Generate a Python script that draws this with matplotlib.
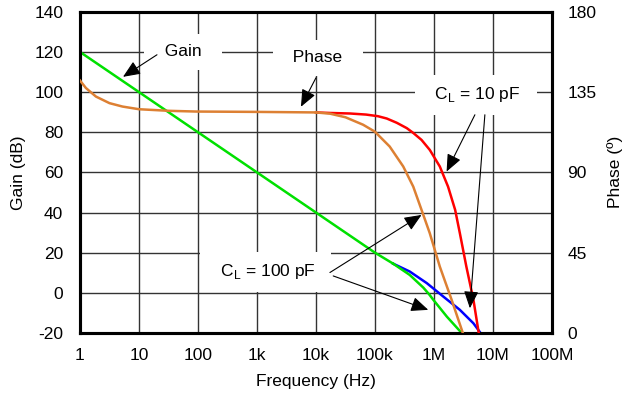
import numpy as np
import matplotlib
matplotlib.use('Agg')
import matplotlib.pyplot as plt

plt.rcParams['font.family'] = ['Liberation Sans', 'DejaVu Sans']
plt.rcParams['font.size'] = 12.5
plt.rcParams['axes.unicode_minus'] = False

# gain (dB) vs log10(frequency)
gain_log_f = [0, 1, 2, 3, 4, 5, 5.31]
gain_db = [120, 100, 80, 60, 40, 20, 14.5]
g100_log_f = [5.31, 5.59, 5.82, 5.92, 5.99, 6.22, 6.47]
g100_db = [14.5, 8.9, 2.6, -0.8, -3.5, -11.9, -20]
g10_log_f = [5.31, 5.59, 5.88, 6.16, 6.44, 6.67, 6.79]
g10_db = [14.5, 10.6, 4.8, -1.9, -8.5, -15.2, -20]

# phase (deg) vs log10(frequency)
ph_low_log_f = [0, 0.1, 0.27, 0.5, 0.72, 1.0, 1.51, 1.97, 3.0, 4.0]
ph_low_deg = [141.5, 137.3, 132.5, 128.8, 126.9, 125.4, 124.5, 124.1, 123.9, 123.6]
ph100_log_f = [4.0, 4.24, 4.5, 4.8, 5.0, 5.25, 5.48, 5.65, 5.79, 5.93, 6.10, 6.30, 6.49]
ph100_deg = [123.6, 122.9, 120.9, 116.7, 112.8, 104.5, 93.3, 82.0, 69.0, 55.9, 37.2, 18.6, 0]
ph10_log_f = [4.0, 4.24, 4.58, 4.85, 5.05, 5.2, 5.37, 5.54, 5.65, 5.79, 5.93, 6.10, 6.24,
			  6.36, 6.44, 6.55, 6.67, 6.76]
ph10_deg = [123.6, 123.3, 123.0, 122.4, 121.5, 120.2, 117.8, 114.8, 112.1, 108.2, 102.6,
			93.3, 82.0, 69.0, 55.9, 37.2, 18.6, 0]

xticks = [1, 10, 100, 1e3, 1e4, 1e5, 1e6, 1e7, 1e8]
xtick_labels = ['1', '10', '100', '1k', '10k', '100k', '1M', '10M', '100M']
gain_ticks = [-20, 0, 20, 40, 60, 80, 100, 120, 140]
phase_ticks = [0, 45, 90, 135, 180]


def hz(lf):
	return 10.0 ** np.asarray(lf)


green = '#00e000'
orange = '#dd8033'

fig = plt.figure(figsize=(6.25, 3.94), dpi=100)
ax = fig.add_axes([0.128, 0.155, 0.755, 0.815])
ax2 = ax.twinx()

ax.set_xscale('log')
ax.set_xlim(1, 1e8)
ax.set_ylim(-20, 140)
ax2.set_ylim(0, 180)

ax.set_xticks(xticks)
ax.set_xticklabels(xtick_labels)
ax.minorticks_off()
ax.set_yticks(gain_ticks)
ax2.set_yticks(phase_ticks)
ax.tick_params(length=0, pad=12)
ax.tick_params(axis='x', pad=11)
ax2.tick_params(length=0, pad=11)
ax.grid(True, color='#333333', lw=1.0)

for a in (ax, ax2):
	for s in a.spines.values():
		s.set_linewidth(2.2)

ax.set_xlabel('Frequency (Hz)', labelpad=8)
ax.set_ylabel('Gain (dB)', labelpad=6)
ax2.set_ylabel('Phase (º)', labelpad=8)

# gain curves
ax.plot(hz(g10_log_f), g10_db, color='#0000ff', lw=1.8, zorder=3)
ax.plot(hz(g100_log_f), g100_db, color=green, lw=1.8, zorder=4)
ax.plot(hz(gain_log_f), gain_db, color=green, lw=1.8, zorder=4)

# phase curves
ax2.plot(hz(ph10_log_f), ph10_deg, color='#ff0000', lw=1.8, zorder=3)
ax2.plot(hz(ph100_log_f), ph100_deg, color=orange, lw=1.8, zorder=4)
ax2.plot(hz(ph_low_log_f), ph_low_deg, color=orange, lw=1.8, zorder=4)

box = dict(boxstyle='square,pad=0.6', fc='white', ec='none')
labels = [('Gain', 1.746, 120.1), ('Phase', 4.03, 117.1),
		  ('C$_\\mathregular{L}$ = 10 pF', 6.71, 98.6),
		  ('C$_\\mathregular{L}$ = 100 pF', 3.15, 10.4)]
for txt, lx, ly in labels:
	ax2.text(10 ** lx, ly, '  ' + txt + '  ', transform=ax.transData,
			 ha='center', va='center', bbox=box, zorder=5)

arrows = [((1.305, 118.6), (0.729, 107.6)),
		  ((4.0, 107.1), (3.746, 92.7)),
		  ((6.695, 88.7), (6.215, 60.4)),
		  ((6.864, 88.7), (6.61, -7.7)),
		  ((4.237, 10.1), (5.79, 38.8)),
		  ((4.293, 8.4), (5.904, -8.5))]
for (tx, ty), (hx, hy) in arrows:
	ax2.annotate('', xy=(10 ** hx, hy), xytext=(10 ** tx, ty),
				 xycoords=ax.transData, textcoords=ax.transData,
				 arrowprops=dict(arrowstyle='-|>,head_length=0.75,head_width=0.32',
								 mutation_scale=14, lw=0.8, color='black',
								 shrinkA=0, shrinkB=0), zorder=6)

fig.savefig('out.png', dpi=100)
